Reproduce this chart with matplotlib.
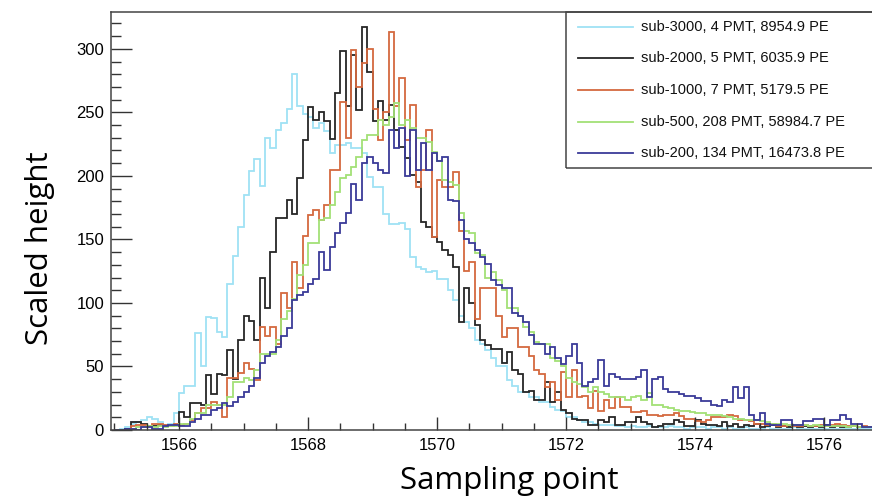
import numpy as np
import matplotlib.pyplot as plt
from matplotlib.lines import Line2D
from matplotlib.patches import Rectangle
from matplotlib.ticker import MultipleLocator

# histogram binning (sampling points, 1/12 wide bins)
bin_start = 1565.0
bin_width = 1.0 / 12

labels = ["sub-3000, 4 PMT, 8954.9 PE",
          "sub-2000, 5 PMT, 6035.9 PE",
          "sub-1000, 7 PMT, 5179.5 PE",
          "sub-500, 208 PMT, 58984.7 PE",
          "sub-200, 134 PMT, 16473.8 PE"]

sub3000 = [0, 1, 2, 5, 6, 8, 10, 9, 6, 4, 5, 13,
           29, 35, 35, 76, 50, 89, 88, 77, 73, 115, 137, 160,
           185, 204, 213, 192, 230, 222, 236, 242, 253, 280, 255, 249,
           246, 238, 242, 235, 218, 224, 224, 226, 222, 222, 218, 199,
           191, 191, 170, 162, 162, 163, 158, 136, 128, 127, 124, 125,
           119, 119, 110, 102, 90, 85, 80, 71, 68, 63, 57, 50,
           50, 39, 35, 30, 30, 26, 26, 22, 22, 18, 16, 15,
           10, 10, 8, 6, 6, 5, 4, 4, 4, 3, 3, 2,
           3, 2, 2, 3, 2, 2, 2, 3, 2, 2, 1, 2,
           2, 2, 1, 2, 2, 1, 2, 1, 1, 2, 1, 1,
           1, 2, 1, 1, 1, 1, 2, 1, 1, 1, 1, 1,
           1, 1, 1, 1, 1, 1, 1, 1, 1]

sub2000 = [0, 0, 1, 6, 6, 5, 3, 3, 4, 3, 3, 4,
           14, 10, 21, 21, 20, 43, 28, 44, 43, 63, 40, 71,
           90, 86, 71, 120, 96, 140, 167, 167, 181, 170, 198, 228,
           254, 244, 250, 243, 229, 265, 298, 255, 295, 252, 317, 282,
           243, 259, 244, 256, 236, 223, 214, 201, 195, 164, 160, 152,
           148, 142, 138, 128, 85, 112, 100, 83, 71, 67, 64, 64,
           53, 61, 47, 44, 30, 31, 24, 24, 38, 22, 30, 16,
           13, 9, 8, 8, 4, 4, 8, 6, 10, 4, 4, 6,
           6, 10, 6, 5, 2, 3, 5, 5, 8, 6, 3, 3,
           8, 5, 4, 4, 3, 6, 3, 5, 2, 4, 3, 5,
           2, 3, 4, 2, 3, 2, 4, 2, 3, 2, 3, 2,
           4, 2, 3, 2, 2, 3, 2, 2, 2]

sub1000 = [0, 0, 0, 3, 4, 4, 3, 5, 5, 4, 3, 5,
           4, 5, 8, 13, 17, 17, 22, 20, 10, 41, 41, 45,
           53, 48, 39, 81, 74, 81, 68, 108, 96, 132, 112, 153,
           169, 173, 165, 177, 205, 205, 258, 230, 299, 270, 289, 300,
           253, 228, 250, 313, 255, 277, 228, 256, 191, 205, 236, 152,
           197, 191, 191, 203, 157, 125, 132, 87, 112, 112, 112, 90,
           73, 80, 80, 65, 65, 58, 47, 44, 34, 38, 24, 46,
           26, 47, 26, 27, 17, 31, 15, 24, 17, 26, 18, 18,
           14, 14, 15, 12, 12, 11, 12, 12, 13, 11, 9, 9,
           7, 6, 8, 10, 10, 10, 12, 11, 8, 8, 7, 5,
           5, 4, 5, 3, 3, 4, 3, 3, 4, 3, 3, 4,
           3, 4, 5, 4, 3, 3, 2, 3, 2]

sub500 = [0, 0, 0, 1, 2, 2, 3, 2, 3, 2, 3, 3,
          5, 5, 9, 13, 13, 20, 20, 20, 20, 26, 38, 38,
          41, 39, 47, 60, 60, 60, 71, 87, 94, 103, 122, 130,
          147, 147, 165, 167, 177, 187, 198, 201, 207, 215, 228, 232,
          232, 244, 240, 246, 257, 240, 244, 238, 230, 230, 227, 219,
          212, 197, 195, 193, 171, 157, 155, 139, 138, 120, 124, 118,
          110, 96, 96, 90, 81, 77, 69, 68, 68, 57, 54, 50,
          41, 38, 36, 34, 30, 34, 30, 28, 26, 26, 26, 24,
          26, 27, 24, 29, 20, 20, 18, 17, 16, 15, 15, 14,
          13, 13, 12, 12, 12, 11, 10, 9, 9, 8, 8, 8,
          7, 6, 5, 5, 5, 4, 4, 4, 4, 3, 4, 3,
          3, 3, 3, 3, 2, 3, 2, 2, 2]

sub200 = [0, 0, 1, 1, 0, 2, 2, 1, 1, 3, 4, 4,
          3, 3, 6, 9, 12, 12, 16, 17, 21, 19, 22, 26,
          30, 35, 41, 53, 58, 61, 65, 74, 80, 102, 106, 109,
          115, 119, 140, 126, 144, 155, 163, 171, 194, 181, 210, 215,
          210, 205, 202, 236, 222, 238, 200, 236, 205, 226, 205, 218,
          212, 215, 181, 180, 165, 150, 147, 142, 136, 131, 118, 114,
          112, 112, 92, 90, 85, 75, 68, 68, 60, 65, 57, 52,
          58, 68, 53, 35, 38, 40, 55, 35, 44, 42, 40, 40,
          40, 42, 47, 26, 40, 42, 32, 30, 30, 28, 27, 27,
          25, 23, 23, 20, 19, 24, 22, 34, 25, 34, 12, 8,
          13, 5, 4, 4, 8, 8, 4, 4, 7, 7, 9, 9,
          4, 8, 8, 12, 9, 5, 5, 2, 2]

series = [sub3000, sub2000, sub1000, sub500, sub200]
colors = ['#9fe2f4', '#262626', '#d4693f', '#a3e076', '#3a3a98']

W, H = 872, 498
fig = plt.figure(figsize=(W / 100, H / 100), dpi=100)
ax = fig.add_axes([111 / W, 1 - 430 / H, (W - 111) / W, (430 - 12) / H])

edges = bin_start + bin_width * np.arange(len(sub3000) + 1)
for vals, c in zip(series, colors):
    ax.stairs(vals, edges, color=c, lw=1.3, baseline=0)

ax.set_xlim(1564.946, 1576.74)
ax.set_ylim(0, 329)

ax.xaxis.set_major_locator(MultipleLocator(2))
ax.xaxis.set_minor_locator(MultipleLocator(0.5))
ax.yaxis.set_major_locator(MultipleLocator(50))
ax.yaxis.set_minor_locator(MultipleLocator(10))

ax.tick_params(axis='y', which='major', direction='in', length=15, width=1.0,
               color='#333333', labelsize=12, pad=5)
ax.tick_params(axis='y', which='minor', direction='in', length=7, width=1.0,
               color='#333333')
ax.tick_params(axis='x', which='major', direction='in', length=9.5, width=1.0,
               color='#333333', labelsize=12, pad=6)
ax.tick_params(axis='x', which='minor', direction='in', length=5, width=1.0,
               color='#333333')
for lab in ax.get_xticklabels() + ax.get_yticklabels():
    lab.set_fontfamily('Liberation Sans')

ax.spines['right'].set_visible(False)
for s in ['left', 'bottom', 'top']:
    ax.spines[s].set_color('#444444')
    ax.spines[s].set_linewidth(1.1)

# axis titles
fig.text(509 / W, 1 - 481 / H, "Sampling point", fontsize=22.5,
         family='Open Sans', ha='center', va='center')
fig.text(40 / W, 1 - 248 / H, "Scaled height", fontsize=22.5,
         family='Open Sans', ha='center', va='center', rotation=90)

# legend box (ROOT style)
fig.add_artist(Rectangle((566 / W, 1 - 168 / H), 0.5, (168 - 12) / H,
                         transform=fig.transFigure, fill=False,
                         ec='#444444', lw=1.1, clip_on=False))
row_y = [27, 58, 90, 122, 153]
for lab, c, yy in zip(labels, colors, row_y):
    fig.add_artist(Line2D([578 / W, 633 / W], [1 - yy / H, 1 - yy / H],
                          transform=fig.transFigure, color=c, lw=1.3))
    fig.text(641 / W, 1 - yy / H, lab, fontsize=10.5, family='Liberation Sans',
             ha='left', va='center', color='#111111')

fig.savefig("out.png", dpi=100)
